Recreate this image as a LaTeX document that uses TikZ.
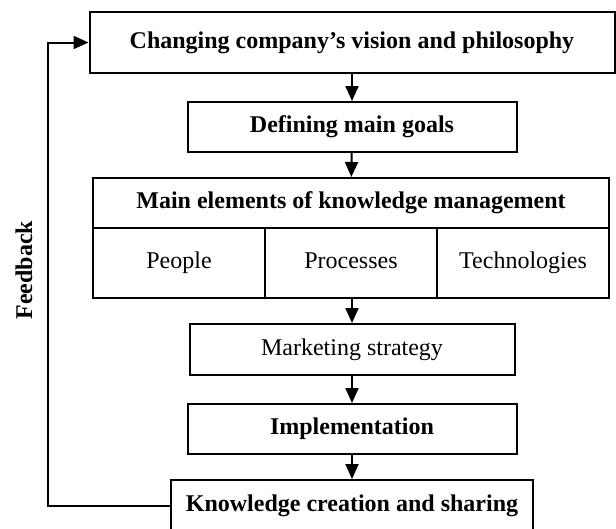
\documentclass[tikz,border=0pt]{standalone}
\usepackage{fontspec}
\setmainfont{Liberation Serif}
\usepackage{tikz}
\usetikzlibrary{arrows.meta, positioning}

\tikzset{
    box/.style={draw, line width=2pt, minimum height=50pt, inner sep=0pt,
        text height=16pt, text depth=5pt,
        font=\fontsize{24}{28}\selectfont},
    headbox/.style={box, font=\fontsize{24}{28}\selectfont\bfseries},
    flow/.style={line width=2pt, -{Triangle[length=15pt,width=13pt]}},
}

\begin{document}
\begin{tikzpicture}[x=1pt, y=-1pt]

    \clip (0,0) rectangle (616,528);

    % Top of the chain
    \node[headbox, minimum width=525pt, minimum height=61pt] (vision) at (352,42.5)
        {Changing company’s vision and philosophy};
    \node[headbox, minimum width=329pt] (goals) at (352,127) {Defining main goals};

    % Knowledge management block
    \node[headbox, minimum width=516pt] (elements) at (351,203)
        {Main elements of knowledge management};
    \node[box, minimum width=172pt, minimum height=70pt] (people) at (179,263) {People};
    \node[box, minimum width=172pt, minimum height=70pt] (processes) at (351,263) {Processes};
    \node[box, minimum width=172pt, minimum height=70pt] (technologies) at (523,263) {Technologies};

    % Lower part of the chain
    \node[box, minimum width=325pt, minimum height=51pt] (marketing) at (352,349.5)
        {Marketing strategy};
    \node[headbox, minimum width=329pt] (implementation) at (352,429) {Implementation};
    \node[headbox, minimum width=362pt, minimum height=52pt] (creation) at (352,506)
        {Knowledge creation and sharing};

    % Arrows down
    \draw[flow] (vision) -- (goals);
    \draw[flow] (goals) -- (elements);
    \draw[flow] (processes.south -| marketing) -- (marketing);
    \draw[flow] (marketing) -- (implementation);
    \draw[flow] (implementation) -- (creation);

    % Feedback loop on the left
    \coordinate (loop) at (47.5,270);
    \draw[flow] (creation.west) -| (loop) |- (vision.west);
    \node[rotate=90, font=\fontsize{24}{28}\selectfont\bfseries] (feedback) at (24,270) {Feedback};

\end{tikzpicture}
\end{document}
